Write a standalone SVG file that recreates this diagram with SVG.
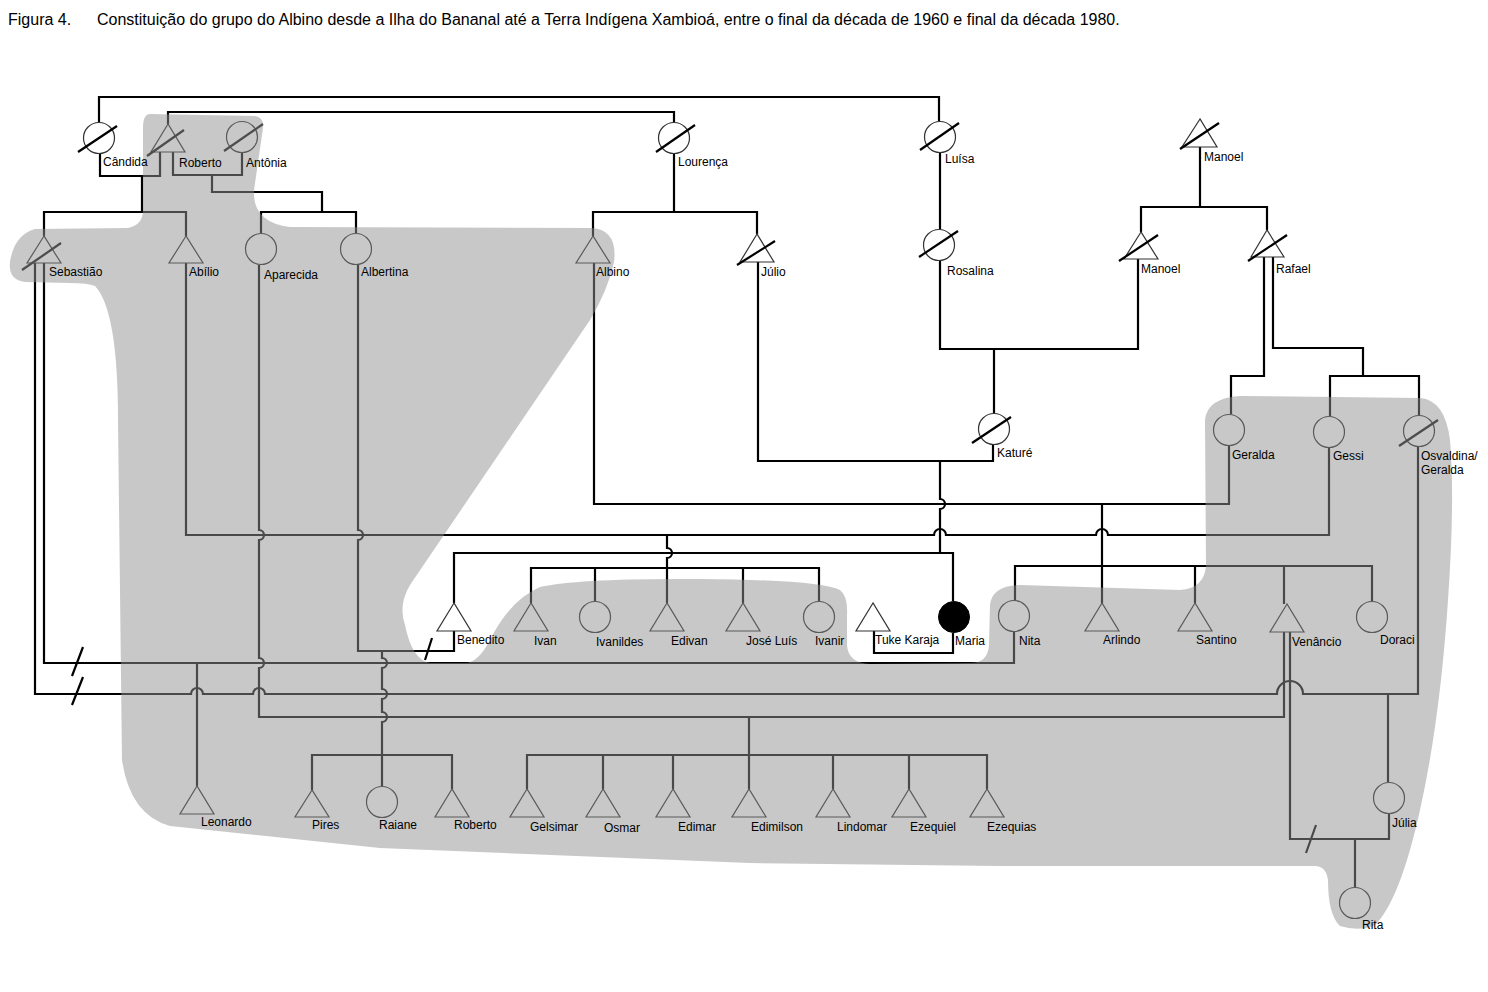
<svg xmlns="http://www.w3.org/2000/svg" width="1488" height="992" viewBox="0 0 1488 992">
<style>
.bg{fill:#fff}
.c{fill:none;stroke:#000;stroke-width:2.2;stroke-linejoin:miter}
.sh{fill:#929292;opacity:.5}
.n{fill:none;stroke:#333;stroke-width:1.2}
.in .n{stroke:#5a5a5a}
.d{stroke:#000;stroke-width:2.2}
.in .d{stroke:#4d4d4d}
.t{font-family:"Liberation Sans",Arial,sans-serif;font-size:12px;fill:#000}
.ti{font-family:"Liberation Sans",Arial,sans-serif;font-size:16px;fill:#000}
</style>
<rect class="bg" x="0" y="0" width="1488" height="992"/>
<g id="title">
<text class="ti" x="8" y="25">Figura 4.</text>
<text class="ti" x="97" y="25">Constituição do grupo do Albino desde a Ilha do Bananal até a Terra Indígena Xambioá, entre o final da década de 1960 e final da década 1980.</text>
</g>
<g id="connectors">
<path class="c" d="M99 122 V97 H939 V121"/>
<path class="c" d="M168 124 V112 H674 V122"/>
<path class="c" d="M100 153 V176 H160 V152"/>
<path class="c" d="M173 152 V175 H242 V153"/>
<path class="c" d="M142 176 V212 M44 236 V212 H186 V236"/>
<path class="c" d="M212 175 V192 H322 V212 M261 233 V212 H356 V233"/>
<path class="c" d="M674 154 V212 M593 236 V212 H757 V234"/>
<path class="c" d="M940 153 V229"/>
<path class="c" d="M1200 147 V207 M1141 232 V207 H1267 V230"/>
<path class="c" d="M940 261 V349 H1138 V259 M994 349 V413"/>
<path class="c" d="M1264 257 V376 H1231 V414 M1273 257 V348 H1363 V376 M1330 416 V376 H1419 V415"/>
<path class="c" d="M758 262 V461 H993 V445"/>
<path class="c" d="M940 461 V499 a5 5 0 0 1 0 10 V553"/>
<path class="c" d="M454 603 V553 H953 V601"/>
<path class="c" d="M594 263 V504 H1229 V446"/>
<path class="c" d="M1102 504 V603"/>
<path class="c" d="M1015 600 V566 H1372 V601 M1195 566 V603 M1284 566 V604"/>
<path class="c" d="M186 263 V535 H934 a6 6 0 0 1 12 0 H1096 a6 6 0 0 1 12 0 H1329 V448"/>
<path class="c" d="M667 535 V548 a5 5 0 0 1 0 10 V603 M531 603 V568 H819 V601 M595 568 V601 M743 568 V603"/>
<path class="c" d="M358 265 V530 a5 5 0 0 1 0 10 V651 H454 V631 M425 660 L432 638"/>
<path class="c" d="M382 651 V658 a5 5 0 0 1 0 10 V689 a5 5 0 0 1 0 10 V712 a5 5 0 0 1 0 10 V786 M312 790 V755 H452 V789"/>
<path class="c" d="M44 263 V663 H1014 V632 M72 676 L83 647"/>
<path class="c" d="M35 263 V694 H191 a6 6 0 0 1 12 0 H253 a6 6 0 0 1 12 0 H1277 a13 13 0 0 1 26 0 H1418 V447 M72 705 L83 677"/>
<path class="c" d="M197 663 V786"/>
<path class="c" d="M259 265 V530 a5 5 0 0 1 0 10 V658 a5 5 0 0 1 0 10 V717 H1284 V632"/>
<path class="c" d="M749 717 V789 M527 789 V755 H987 V789 M603 755 V789 M673 755 V789 M833 755 V789 M909 755 V789"/>
<path class="c" d="M1388 694 V782"/>
<path class="c" d="M1290 632 V839 H1389 V814 M1306 853 L1316 825 M1355 839 V887"/>
<path class="c" d="M874 631 V653 H953 V633"/>
</g>
<path id="shade" class="sh" d="M150 114 L255 116 Q264 117 263 128 L254 190 Q252 222 290 227 L592 228 Q618 230 614 262 Q608 290 590 320 L410 585 Q398 605 405 625 Q412 660 430 663 L465 663 Q478 663 490 640 Q510 600 540 587 Q580 578 700 579 Q820 580 840 590 Q848 596 847 615 L847 645 Q848 663 870 664 L970 663 Q988 663 989 645 L990 605 Q992 586 1020 585 L1180 590 Q1205 588 1206 565 L1205 420 Q1207 398 1240 396 L1420 398 Q1445 400 1450 440 Q1455 500 1448 600 Q1440 720 1420 810 Q1400 900 1375 925 Q1360 932 1340 926 Q1328 915 1328 880 Q1326 866 1315 866 L1000 866 L750 863 L380 848 L170 826 Q130 815 122 760 L118 420 Q118 310 95 286 Q88 283 70 283 L25 282 Q8 280 10 262 Q14 235 35 229 L128 228 Q143 225 143 210 L143 128 Q143 114 150 114 Z"/>
<g id="nodes">
<g id="candida"><circle class="n" cx="99" cy="138" r="15.5"/><line class="d" x1="78" y1="152" x2="117" y2="126"/><text class="t" x="103" y="166">Cândida</text></g>
<g id="roberto" class="in"><polygon class="n" points="168,124 151,152 185,152"/><line class="d" x1="147" y1="156" x2="184" y2="130"/><text class="t" x="179" y="167">Roberto</text></g>
<g id="antonia" class="in"><circle class="n" cx="242" cy="137" r="15.5"/><line class="d" x1="224" y1="151" x2="263" y2="124"/><text class="t" x="246" y="167">Antônia</text></g>
<g id="lourenca"><circle class="n" cx="674" cy="138" r="15.5"/><line class="d" x1="656" y1="152" x2="695" y2="125"/><text class="t" x="678" y="166">Lourença</text></g>
<g id="luisa"><circle class="n" cx="940" cy="137" r="15.5"/><line class="d" x1="920" y1="150" x2="959" y2="123"/><text class="t" x="945" y="163">Luísa</text></g>
<g id="manoel1"><polygon class="n" points="1200,119 1182,147 1217,147"/><line class="d" x1="1180" y1="149" x2="1219" y2="123"/><text class="t" x="1204" y="161">Manoel</text></g>
<g id="sebastiao" class="in"><polygon class="n" points="44,236 27,263 61,263"/><line class="d" x1="22" y1="270" x2="61" y2="243"/><text class="t" x="49" y="276">Sebastião</text></g>
<g id="abilio" class="in"><polygon class="n" points="186,236 169,263 203,263"/><text class="t" x="189" y="276">Abílio</text></g>
<g id="aparecida" class="in"><circle class="n" cx="261" cy="249" r="15.5"/><text class="t" x="264" y="279">Aparecida</text></g>
<g id="albertina" class="in"><circle class="n" cx="356" cy="249" r="15.5"/><text class="t" x="361" y="276">Albertina</text></g>
<g id="albino" class="in"><polygon class="n" points="593,236 576,263 610,263"/><text class="t" x="596" y="276">Albino</text></g>
<g id="julio"><polygon class="n" points="757,234 740,262 774,262"/><line class="d" x1="737" y1="265" x2="775" y2="241"/><text class="t" x="761" y="276">Júlio</text></g>
<g id="rosalina"><circle class="n" cx="939" cy="245" r="15.5"/><line class="d" x1="919" y1="257" x2="958" y2="231"/><text class="t" x="947" y="275">Rosalina</text></g>
<g id="manoel2"><polygon class="n" points="1141,232 1124,259 1158,259"/><line class="d" x1="1119" y1="261" x2="1158" y2="235"/><text class="t" x="1141" y="273">Manoel</text></g>
<g id="rafael"><polygon class="n" points="1267,230 1251,257 1284,257"/><line class="d" x1="1248" y1="261" x2="1287" y2="235"/><text class="t" x="1276" y="273">Rafael</text></g>
<g id="kature"><circle class="n" cx="994" cy="429" r="15.5"/><line class="d" x1="972" y1="443" x2="1011" y2="417"/><text class="t" x="997" y="457">Katuré</text></g>
<g id="geralda" class="in"><circle class="n" cx="1229" cy="430" r="15.5"/><text class="t" x="1232" y="459">Geralda</text></g>
<g id="gessi" class="in"><circle class="n" cx="1329" cy="432" r="15.5"/><text class="t" x="1333" y="460">Gessi</text></g>
<g id="osvaldina" class="in"><circle class="n" cx="1419" cy="431" r="15.5"/><line class="d" x1="1399" y1="446" x2="1438" y2="420"/><text class="t" x="1421" y="460">Osvaldina/</text><text class="t" x="1421" y="474">Geralda</text></g>
<g id="benedito"><polygon class="n" points="454,603 437,631 471,631"/><text class="t" x="457" y="644">Benedito</text></g>
<g id="ivan" class="in"><polygon class="n" points="531,603 514,631 548,631"/><text class="t" x="534" y="645">Ivan</text></g>
<g id="ivanildes" class="in"><circle class="n" cx="595" cy="617" r="15.5"/><text class="t" x="596" y="646">Ivanildes</text></g>
<g id="edivan" class="in"><polygon class="n" points="667,603 650,631 684,631"/><text class="t" x="671" y="645">Edivan</text></g>
<g id="joseluis" class="in"><polygon class="n" points="743,603 726,631 760,631"/><text class="t" x="746" y="645">José Luís</text></g>
<g id="ivanir" class="in"><circle class="n" cx="819" cy="617" r="15.5"/><text class="t" x="815" y="645">Ivanir</text></g>
<g id="tuke"><polygon class="n" points="873,603 856,631 890,631"/><text class="t" x="875" y="644">Tuke Karaja</text></g>
<g id="maria"><circle cx="954" cy="617" r="15.5" fill="#000" stroke="#000"/><text class="t" x="955" y="645">Maria</text></g>
<g id="nita" class="in"><circle class="n" cx="1014" cy="616" r="15.5"/><text class="t" x="1019" y="645">Nita</text></g>
<g id="arlindo" class="in"><polygon class="n" points="1102,603 1085,631 1119,631"/><text class="t" x="1103" y="644">Arlindo</text></g>
<g id="santino" class="in"><polygon class="n" points="1195,603 1178,631 1212,631"/><text class="t" x="1196" y="644">Santino</text></g>
<g id="venancio" class="in"><polygon class="n" points="1287,604 1270,632 1304,632"/><text class="t" x="1292" y="646">Venâncio</text></g>
<g id="doraci" class="in"><circle class="n" cx="1372" cy="617" r="15.5"/><text class="t" x="1380" y="644">Doraci</text></g>
<g id="leonardo" class="in"><polygon class="n" points="197,786 180,814 214,814"/><text class="t" x="201" y="826">Leonardo</text></g>
<g id="pires" class="in"><polygon class="n" points="312,790 295,817 329,817"/><text class="t" x="312" y="829">Pires</text></g>
<g id="raiane" class="in"><circle class="n" cx="382" cy="802" r="15.5"/><text class="t" x="379" y="829">Raiane</text></g>
<g id="roberto2" class="in"><polygon class="n" points="452,789 435,817 469,817"/><text class="t" x="454" y="829">Roberto</text></g>
<g id="gelsimar" class="in"><polygon class="n" points="527,789 510,817 544,817"/><text class="t" x="530" y="831">Gelsimar</text></g>
<g id="osmar" class="in"><polygon class="n" points="603,789 586,817 620,817"/><text class="t" x="604" y="832">Osmar</text></g>
<g id="edimar" class="in"><polygon class="n" points="673,789 656,817 690,817"/><text class="t" x="678" y="831">Edimar</text></g>
<g id="edimilson" class="in"><polygon class="n" points="749,789 732,817 766,817"/><text class="t" x="751" y="831">Edimilson</text></g>
<g id="lindomar" class="in"><polygon class="n" points="833,789 816,817 850,817"/><text class="t" x="837" y="831">Lindomar</text></g>
<g id="ezequiel" class="in"><polygon class="n" points="909,789 892,817 926,817"/><text class="t" x="910" y="831">Ezequiel</text></g>
<g id="ezequias" class="in"><polygon class="n" points="987,789 970,817 1004,817"/><text class="t" x="987" y="831">Ezequias</text></g>
<g id="julia" class="in"><circle class="n" cx="1389" cy="798" r="15.5"/><text class="t" x="1392" y="827">Júlia</text></g>
<g id="rita" class="in"><circle class="n" cx="1355" cy="903" r="15.5"/><text class="t" x="1362" y="929">Rita</text></g>
</g>
</svg>
